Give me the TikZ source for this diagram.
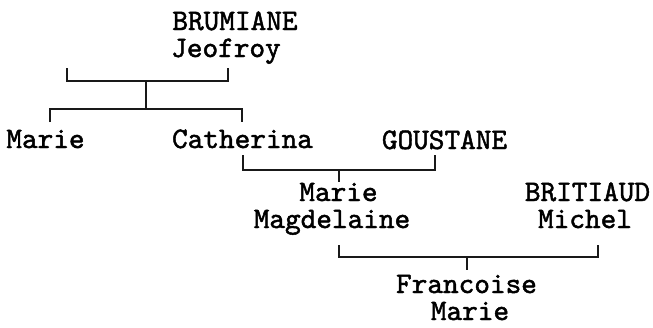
\documentclass[tikz,border=0pt]{standalone}
\usepackage{fontspec}
\newfontfamily\treefont{lmmono10-regular.otf}[FakeBold=1.6]
\usepackage{tikz}
\usetikzlibrary{positioning,calc}

\begin{document}
\begin{tikzpicture}[x=1pt,y=-1pt,
    person/.style={anchor=base,inner sep=0pt,font=\treefont\fontsize{29.8}{27}\selectfont},
    link/.style={line width=1.6pt,black!90}]
    \useasboundingbox (0,0) rectangle (653,327);
    % people
    \node[person] (brumiane)   at (235,30)  {BRUMIANE};
    \node[person] (jeofroy)    at (226,57)  {Jeofroy};
    \node[person] (marie)      at (45.5,148) {Marie};
    \node[person] (catherina)  at (242.5,148) {Catherina};
    \node[person] (goustane)   at (444.5,149) {GOUSTANE};
    \node[person] (mmarie)     at (338.5,201) {Marie};
    \node[person] (magdelaine) at (332,228) {Magdelaine};
    \node[person] (britiaud)   at (587.5,201) {BRITIAUD};
    \node[person] (michel)     at (585,228) {Michel};
    \node[person] (francoise)  at (466.5,293) {Francoise};
    \node[person] (fmarie)     at (470,320) {Marie};
    % bracket ends
    \coordinate (u1l) at (67,68);
    \coordinate (u1r) at (228,68);
    \coordinate (u1)  at (146,81);
    \coordinate (c1)  at (146,109);
    \coordinate (k1l) at (50,122);
    \coordinate (k1r) at (242,122);
    \coordinate (u2l) at (243,155);
    \coordinate (u2r) at (435,155);
    \coordinate (u2)  at (339,170);
    \coordinate (c2)  at (339,182);
    \coordinate (u3l) at (339,245);
    \coordinate (u3r) at (598,245);
    \coordinate (u3)  at (467,257);
    \coordinate (c3)  at (467,270);
    % unions and children
    \draw[link] (u1l) |- (u1) -| (u1r);
    \draw[link] (u1) -- (c1);
    \draw[link] (k1l) |- (c1) -| (k1r);
    \draw[link] (u2l) |- (u2) -| (u2r);
    \draw[link] (u2) -- (c2);
    \draw[link] (u3l) |- (u3) -| (u3r);
    \draw[link] (u3) -- (c3);
\end{tikzpicture}
\end{document}
